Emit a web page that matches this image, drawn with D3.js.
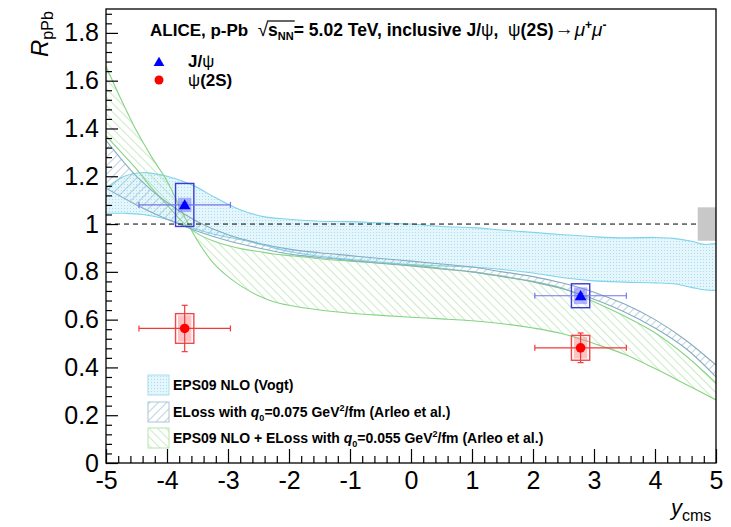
<!DOCTYPE html>
<html><head><meta charset="utf-8">
<script src="https://cdn.jsdelivr.net/npm/d3@7"></script>
<style>
html,body{margin:0;padding:0;background:#fff;}
svg{display:block;}
text{font-family:"Liberation Sans",Arial,Helvetica,sans-serif;white-space:pre;}
</style></head>
<body><svg id="c" width="731" height="527"></svg>
<script>
// ---------------- data ----------------
const xTicks = [-5,-4,-3,-2,-1,0,1,2,3,4,5];
const xTickLabels = ["-5","-4","-3","-2","-1","0","1","2","3","4","5"];
const yTicks = [0,0.2,0.4,0.6,0.8,1,1.2,1.4,1.6,1.8];
const yTickLabels = ["0","0.2","0.4","0.6","0.8","1","1.2","1.4","1.6","1.8"];

// EPS09 NLO (Vogt) band
const vogtX  = [-5,-4.7,-4.4,-4.0,-3.6,-3.2,-2.8,-2.4,-2.0,-1.5,-1.0,-0.5,0,0.5,1,1.5,2,2.5,3,3.5,4,4.3,4.6,4.8,5];
const vogtHi = [1.15,1.20,1.215,1.20,1.165,1.11,1.06,1.03,1.02,1.012,1.01,1.005,1.0,0.99,0.985,0.975,0.965,0.955,0.947,0.942,0.944,0.94,0.928,0.915,0.918];
const vogtLo = [1.045,1.045,1.04,1.02,0.985,0.955,0.935,0.91,0.885,0.865,0.852,0.84,0.83,0.825,0.82,0.81,0.795,0.775,0.762,0.757,0.754,0.75,0.735,0.725,0.722];

// ELoss q0=0.075 band
const elX  = [-5,-4.5,-4,-3.5,-3,-2.5,-2,-1.5,-1,-0.5,0,0.5,1,1.5,2,2.5,3,3.5,4,4.5,5];
const elHi = [1.35,1.2,1.09,1.01,0.955,0.92,0.895,0.88,0.868,0.856,0.845,0.833,0.82,0.8,0.78,0.752,0.715,0.665,0.6,0.515,0.41];
const elLo = [1.15,1.08,1.02,0.97,0.93,0.9,0.875,0.86,0.848,0.836,0.825,0.812,0.8,0.78,0.758,0.728,0.685,0.632,0.565,0.48,0.36];

// EPS09 NLO + ELoss q0=0.055 band (two edge curves, crossing)
const gX = [-5,-4.75,-4.5,-4.25,-4,-3.75,-3.5,-3.25,-3,-2.75,-2.5,-2.25,-2,-1.5,-1,-0.5,0,0.5,1,1.5,2,2.5,3,3.5,4,4.5,5];
const gA = [1.66,1.52,1.39,1.28,1.18,1.05,0.93,0.84,0.78,0.735,0.70,0.675,0.66,0.64,0.627,0.618,0.61,0.603,0.595,0.583,0.565,0.54,0.50,0.455,0.395,0.33,0.264];
const gB = [1.37,1.30,1.23,1.15,1.08,1.01,0.96,0.93,0.91,0.895,0.885,0.875,0.868,0.855,0.845,0.836,0.828,0.815,0.8,0.782,0.76,0.73,0.675,0.615,0.545,0.45,0.335];

// measurements
const binLo   = [-4.46, 2.03];
const binHi   = [-2.96, 3.53];
const binMid  = [-3.71, 2.78];
const jpsiR    = [1.08, 0.70];
const jpsiStat = [0.01, 0.01];
const jpsiSyst = [0.09, 0.05];
const jpsiCorr = [0.03, 0.035];
const psi2R    = [0.563, 0.482];
const psi2Stat = [0.097, 0.062];
const psi2Syst = [0.062, 0.052];
const psi2Corr = [0.055, 0.045];
const globalUnc = 0.07;

const bandLabels = ["EPS09 NLO (Vogt)", "ELoss with ", "EPS09 NLO + ELoss with "];
const bandQ0 = [null, "0.075", "0.055"];

// ---------------- layout ----------------
const svg = d3.select("#c");
const L=106, R=716, T=9, B=463;
const x = d3.scaleLinear().domain([-5,5]).range([L,R]);
const y = d3.scaleLinear().domain([0,1.9]).range([B,T]);

const defs = svg.append("defs");
const clip = defs.append("clipPath").attr("id","frame");
clip.append("rect").attr("x",L).attr("y",T).attr("width",R-L).attr("height",B-T);

const pd = defs.append("pattern").attr("id","dots").attr("patternUnits","userSpaceOnUse").attr("width",3).attr("height",3);
pd.append("rect").attr("width",3).attr("height",3).attr("fill","#e4f6fb");
pd.append("rect").attr("x",1).attr("y",1).attr("width",1).attr("height",1).attr("fill","#a9def0");
function hatch(id, angle, color, sp){
  const p = defs.append("pattern").attr("id",id).attr("patternUnits","userSpaceOnUse")
    .attr("width",sp).attr("height",sp).attr("patternTransform",`rotate(${angle})`);
  p.append("line").attr("x1",0).attr("y1",0).attr("x2",0).attr("y2",sp).attr("stroke",color).attr("stroke-width",1.2);
}
hatch("hEL", 45, "#8fb3c6", 6);
hatch("hG", -45, "#a6dd9e", 6);

const plot = svg.append("g").attr("clip-path","url(#frame)");

function band(xs, a, b, fill, stroke){
  const pts = xs.map((v,i)=>({x:v,a:a[i],b:b[i]}));
  const area = d3.area().x(d=>x(d.x)).y0(d=>y(d.a)).y1(d=>y(d.b)).curve(d3.curveCatmullRom);
  plot.append("path").datum(pts).attr("d",area).attr("fill",fill).attr("stroke","none");
  const ln = key => d3.line().x(d=>x(d.x)).y(d=>y(d[key])).curve(d3.curveCatmullRom);
  plot.append("path").datum(pts).attr("d",ln("a")).attr("fill","none").attr("stroke",stroke).attr("stroke-width",1.1);
  plot.append("path").datum(pts).attr("d",ln("b")).attr("fill","none").attr("stroke",stroke).attr("stroke-width",1.1);
}
band(vogtX, vogtHi, vogtLo, "url(#dots)", "#7fd3ea");
band(gX, gA, gB, "url(#hG)", "#86d483");
band(elX, elHi, elLo, "url(#hEL)", "#86acc0");

plot.append("line").attr("x1",x(-5)).attr("x2",x(5)).attr("y1",y(1)).attr("y2",y(1))
  .attr("stroke","#000").attr("stroke-width",1).attr("stroke-dasharray","5,4");
plot.append("rect").attr("x",x(4.7)).attr("width",x(5)-x(4.7)).attr("y",y(1+globalUnc)).attr("height",y(1-globalUnc)-y(1+globalUnc))
  .attr("fill","#c8c8c8");

function points(vals, stat, syst, corr, col, lineCol, boxCol, fillCol, marker){
  const g = svg.append("g");
  vals.forEach((v,i)=>{
    const cx = x(binMid[i]), cy = y(v);
    g.append("rect").attr("x",x(binMid[i]-0.11)).attr("width",x(binMid[i]+0.11)-x(binMid[i]-0.11))
      .attr("y",y(v+corr[i])).attr("height",y(v-corr[i])-y(v+corr[i])).attr("fill",fillCol);
    g.append("rect").attr("x",x(binMid[i]-0.15)).attr("width",x(binMid[i]+0.15)-x(binMid[i]-0.15))
      .attr("y",y(v+syst[i])).attr("height",y(v-syst[i])-y(v+syst[i])).attr("fill","none")
      .attr("stroke",boxCol).attr("stroke-width",1.4);
    g.append("line").attr("x1",x(binLo[i])).attr("x2",x(binHi[i])).attr("y1",cy).attr("y2",cy).attr("stroke",lineCol).attr("stroke-width",1.2);
    [binLo[i],binHi[i]].forEach(e=>g.append("line").attr("x1",x(e)).attr("x2",x(e)).attr("y1",cy-3).attr("y2",cy+3).attr("stroke",lineCol).attr("stroke-width",1.2));
    g.append("line").attr("x1",cx).attr("x2",cx).attr("y1",y(v+stat[i])).attr("y2",y(v-stat[i])).attr("stroke",lineCol).attr("stroke-width",1.2);
    [v+stat[i],v-stat[i]].forEach(e=>g.append("line").attr("x1",cx-3).attr("x2",cx+3).attr("y1",y(e)).attr("y2",y(e)).attr("stroke",lineCol).attr("stroke-width",1.2));
    if(marker==="tri") g.append("path").attr("d",d3.symbol(d3.symbolTriangle,60)()).attr("transform",`translate(${cx},${cy+1})`).attr("fill",col);
    else g.append("circle").attr("cx",cx).attr("cy",cy).attr("r",4.8).attr("fill",col);
  });
}
points(jpsiR, jpsiStat, jpsiSyst, jpsiCorr, "#0000ff", "#7474ea", "#3a3ad6", "rgba(120,120,255,0.55)", "tri");
points(psi2R, psi2Stat, psi2Syst, psi2Corr, "#ff0000", "#f03a3a", "#f04848", "rgba(255,120,120,0.45)", "circ");

// ---------------- axes ----------------
const ax = svg.append("g");
function yMinor(){ const a=[]; for(let i=0;i<=47;i++){ const v=+(i*0.04).toFixed(2); if(v<=1.9 && Math.abs(v*5-Math.round(v*5))>1e-6) a.push(v);} return a; }
function xMinor(){ const a=[]; for(let i=-25;i<=25;i++){ if(i%5!==0) a.push(i*0.2);} return a; }
ax.append("g").attr("transform",`translate(${L},0)`)
  .call(d3.axisLeft(y).tickValues(yMinor()).tickSizeInner(-6).tickSizeOuter(0).tickFormat(""))
  .call(g=>g.select(".domain").remove());
ax.append("g").attr("transform",`translate(${L},0)`)
  .call(d3.axisLeft(y).tickValues(yTicks).tickSizeInner(-12).tickSizeOuter(0).tickPadding(7).tickFormat((d,i)=>yTickLabels[i]))
  .call(g=>g.select(".domain").remove())
  .call(g=>g.selectAll("text").attr("font-size",25).attr("fill","#000").attr("font-family","Liberation Sans, Arial, sans-serif"));
ax.append("g").attr("transform",`translate(0,${B})`)
  .call(d3.axisBottom(x).tickValues(xMinor()).tickSizeInner(-7).tickSizeOuter(0).tickFormat(""))
  .call(g=>g.select(".domain").remove());
ax.append("g").attr("transform",`translate(0,${B})`)
  .call(d3.axisBottom(x).tickValues(xTicks).tickSizeInner(-14).tickSizeOuter(0).tickPadding(8).tickFormat((d,i)=>xTickLabels[i]))
  .call(g=>g.select(".domain").remove())
  .call(g=>g.selectAll("text").attr("font-size",25).attr("fill","#000").attr("font-family","Liberation Sans, Arial, sans-serif"));
ax.selectAll(".tick line").attr("stroke","#000").attr("stroke-width",1.2);
svg.append("rect").attr("x",L).attr("y",T).attr("width",R-L).attr("height",B-T).attr("fill","none").attr("stroke","#000").attr("stroke-width",1.3);

// ---------------- rich text helper ----------------
function rich(parent, x0, y0, parts){
  let cx = x0; const pos=[];
  parts.forEach(p=>{
    const t = parent.append("text").attr("x",cx).attr("y",y0+(p.dy||0))
      .attr("font-size",p.size).attr("font-weight",p.w||"bold").attr("font-style",p.s||"normal")
      .attr("fill","#000").text(p.t);
    if(p.f) t.attr("font-family",p.f);
    const w = t.node().getComputedTextLength();
    pos.push({x:cx,w});
    cx += w + (p.gap||0);
  });
  return pos;
}

// title
const tg = svg.append("g");
const tp = rich(tg, 150, 36, [
  {t:"ALICE, p-Pb  ", size:17},
  {t:"√", size:19, w:"normal", f:"DejaVu Sans"},
  {t:"s", size:17.5},
  {t:"NN", size:11, dy:4},
  {t:"= 5.02 TeV, inclusive J/", size:17.5},
  {t:"ψ", size:17.5, w:"normal", f:"DejaVu Serif"},
  {t:",  ", size:17.5},
  {t:"ψ", size:17.5, w:"normal", f:"DejaVu Serif"},
  {t:"(2S)", size:17.5, gap:1},
  {t:"→", size:19, w:"bold", f:"DejaVu Sans", dy:-1, gap:1},
  {t:"μ", size:19, w:"normal", s:"italic", f:"DejaVu Serif"},
  {t:"+", size:12, dy:-7},
  {t:"μ", size:19, w:"normal", s:"italic", f:"DejaVu Serif"},
  {t:"-", size:12, dy:-7}
]);
tg.append("line").attr("x1",tp[1].x+tp[1].w-1).attr("x2",tp[3].x+tp[3].w+1).attr("y1",21).attr("y2",21).attr("stroke","#000").attr("stroke-width",1.2);

// top legend
svg.append("path").attr("d",d3.symbol(d3.symbolTriangle,50)()).attr("transform","translate(159,63)").attr("fill","#0000ff");
svg.append("circle").attr("cx",159).attr("cy",80).attr("r",4.5).attr("fill","#ff0000");
rich(svg, 188, 67, [{t:"J/",size:17},{t:"ψ",size:17,w:"normal",f:"DejaVu Serif"}]);
rich(svg, 188, 86, [{t:"ψ",size:17,w:"normal",f:"DejaVu Serif"},{t:"(2S)",size:17}]);

// bottom legend
const lgRows = [385, 412, 438];
const lgFill = ["url(#dots)","url(#hEL)","url(#hG)"];
const lgStroke = ["#a9def0","#a9c6d4","#b3e4ad"];
lgRows.forEach((cy,i)=>{
  svg.append("rect").attr("x",148).attr("y",cy-10).attr("width",21).attr("height",20)
    .attr("fill",lgFill[i]).attr("stroke",lgStroke[i]).attr("stroke-width",1);
  const parts = [{t:bandLabels[i], size:14}];
  if(bandQ0[i]){
    parts.push({t:"q",size:14,s:"italic"});
    parts.push({t:"0",size:9,dy:4});
    parts.push({t:"="+bandQ0[i]+" GeV",size:14});
    parts.push({t:"2",size:9,dy:-6});
    parts.push({t:"/fm (Arleo et al.)",size:14});
  }
  rich(svg, 173, cy+5, parts);
});

// axis titles
const yt = svg.append("g").attr("transform","translate(48,57) rotate(-90)");
rich(yt, 0, 0, [{t:"R",size:24,w:"normal",s:"italic"},{t:"pPb",size:16,w:"normal",dy:5}]);
rich(svg, 671, 515, [{t:"y",size:22,w:"normal",s:"italic"},{t:"cms",size:16,w:"normal",dy:6}]);
</script></body></html>
